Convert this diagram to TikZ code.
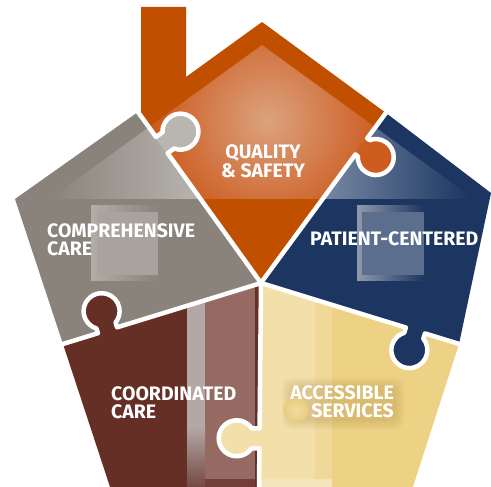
\documentclass[tikz,border=0pt]{standalone}
\usepackage{fontspec}
\setmainfont{Fira Sans}
\definecolor{orangeBase}{HTML}{C04F00}
\definecolor{orangeMid}{HTML}{CC5A1E}
\definecolor{orangeLight}{HTML}{DCA27E}
\definecolor{orangeKnob}{HTML}{CD5C1E}
\definecolor{greyBase}{HTML}{8A837C}
\definecolor{greyLight}{HTML}{BCB9B3}
\definecolor{greyKnob}{HTML}{B9B6B1}
\definecolor{greyFrame}{HTML}{B2ADA7}
\definecolor{greyPane}{HTML}{A8A39D}
\definecolor{navyBase}{HTML}{1C3661}
\definecolor{navyLight}{HTML}{8494AD}
\definecolor{navyFrame}{HTML}{9099AC}
\definecolor{navyPane}{HTML}{5B6E8E}
\definecolor{brownBase}{HTML}{662F25}
\definecolor{brownDoor}{HTML}{946A62}
\definecolor{brownStripe}{HTML}{B3A8A5}
\definecolor{brownDark}{HTML}{733E36}
\definecolor{brownFoot}{HTML}{6E3F38}
\definecolor{yellowBase}{HTML}{EDD185}
\definecolor{yellowDoor}{HTML}{F2DFAA}
\definecolor{yellowMid}{HTML}{EFD898}
\definecolor{yellowFoot}{HTML}{F4E4BC}
\definecolor{knobIn}{HTML}{F1DCA0}
\definecolor{knobOut}{HTML}{E8CC80}
\definecolor{haloCol}{HTML}{9C7A30}
\newcommand\jigsaw[8]{%
 \begin{scope}[shift={(#1,#2)},rotate=#3,yscale=#4]
  \fill[#8] (-10,-1) -- (-10,{#5-14.967}) arc[start angle=236.25,end angle=-56.25,radius=18] -- (10,-1) -- cycle;
  \draw[gap] (-#6,0) -- (-10,0) -- (-10,{#5-14.967}) arc[start angle=236.25,end angle=-56.25,radius=18] -- (10,0) -- (#7,0);
 \end{scope}}
\begin{document}
\begin{tikzpicture}[x=1pt,y=1pt,
  gap/.style={draw=white,line width=4.5pt,line join=round,line cap=round},
  lbl/.style={text=white,inner sep=0pt,font=\bfseries\fontsize{19.5}{18}\selectfont}]
\useasboundingbox (0,0) rectangle (491,487);
\coordinate (C) at (261,204);
\coordinate (Mul) at (138,375);
\coordinate (Mur) at (386,374);
\coordinate (Ml) at (63,143);
\coordinate (Mr) at (459,143);
\coordinate (Mb) at (259,-6);
\coordinate (Vl) at (15,288);
\coordinate (Vr) at (491,294);
\coordinate (Vbl) at (112,-6);
\coordinate (Vbr) at (411,-6);
\coordinate (A) at (262,465);
% pieces
\fill[greyBase] (C) -- (Ml) -- (Vl) -- (Mul) -- cycle;
\fill[orangeBase] (C) -- (141,371) -- (141,480) -- (186,480) -- (186,410) -- (A) -- (Mur) -- cycle;
\fill[navyBase] (C) -- (Mur) -- (Vr) -- (Mr) -- cycle;
\fill[yellowBase] (C) -- (Mr) -- (Vbr) -- (Mb) -- cycle;
\fill[brownBase] (C) -- (Mb) -- (Vbl) -- (Ml) -- cycle;
% roof highlights
\begin{scope}
 \clip (C) -- (Ml) -- (Vl) -- (Mul) -- cycle;
 \clip (262,442) -- (50,288) -- (474,288) -- cycle;
 \shade[left color=greyBase, right color=greyLight] (50,288) rectangle (215,442);
\end{scope}
\begin{scope}
 \clip (C) -- (Mur) -- (Vr) -- (Mr) -- cycle;
 \clip (262,442) -- (50,288) -- (474,288) -- cycle;
 \shade[left color=navyLight, right color=navyBase] (300,288) rectangle (470,442);
\end{scope}
\begin{scope}
 \clip (C) -- (141,371) -- (141,480) -- (186,480) -- (186,410) -- (A) -- (Mur) -- cycle;
 \clip (262,442) -- (50,288) -- (474,288) -- cycle;
 \fill[orangeMid] (50,288) rectangle (474,442);
 \shade[inner color=orangeLight, outer color=orangeMid] (268,367) circle (115);
\end{scope}
% windows
\shade[left color=greyFrame, right color=greyBase] (91,206) rectangle (158,281);
\fill[greyPane] (97,212) rectangle (158,275);
\shade[left color=navyFrame, right color=navyBase] (357,206) rectangle (424,281);
\fill[navyPane] (362,212) rectangle (424,275);
% doors
\begin{scope}
 \clip (C) -- (Mb) -- (Vbl) -- (Ml) -- cycle;
 \fill[brownDoor] (205,8) rectangle (255,330);
 \fill[brownDark] (187,-6) rectangle (255,8);
 \shade[top color=brownStripe, bottom color=brownFoot] (187,-6) rectangle (205,60);
 \fill[brownStripe] (187,60) rectangle (205,330);
\end{scope}
\begin{scope}
 \clip (C) -- (Mr) -- (Vbr) -- (Mb) -- cycle;
 \fill[yellowDoor] (255,8) rectangle (315,330);
 \fill[yellowMid] (315,8) rectangle (332,330);
 \fill[yellowFoot] (255,-6) rectangle (332,8);
\end{scope}
% soft halo behind the yellow label
\foreach \g in {0,2,4,6,8} {
  \fill[haloCol,opacity=0.05,rounded corners=9pt] (290-\g,66-\g) rectangle (396+\g,101+\g);
}
\shade[inner color=knobIn, outer color=knobOut] (296,77) circle (12.5);
% joints with puzzle knobs
\jigsaw{161.8}{341.9}{-54.27}{1}{23}{46}{169.8}{greyKnob}
\jigsaw{361.3}{340.6}{53.67}{-1}{18}{169.5}{46.5}{orangeKnob}
\jigsaw{107.5}{156.7}{17.1}{1}{20}{52}{160.7}{brownBase}
\jigsaw{415.4}{156.5}{-17.1}{-1}{20.5}{161.5}{50.7}{navyBase}
\jigsaw{259.5}{48.5}{-90.55}{-1}{22.8}{155.5}{56.5}{yellowDoor}
% labels
\node[lbl,anchor=base] (q1) at (263,328) {QUALITY};
\node[lbl,anchor=base] (q2) at (263,309.5) {\& SAFETY};
\node[lbl,anchor=base west] (c1) at (47,249) {COMPREHENSIVE};
\node[lbl,anchor=base west] (c2) at (47,231) {CARE};
\node[lbl,anchor=base west] (p1) at (310,241) {PATIENT-CENTERED};
\node[lbl,anchor=base west] (d1) at (111,86) {COORDINATED};
\node[lbl,anchor=base west] (d2) at (111,68) {CARE};
\node[lbl,anchor=base east] (a1) at (394,87) {ACCESSIBLE};
\node[lbl,anchor=base east] (a2) at (394,69) {SERVICES};
\end{tikzpicture}
\end{document}
